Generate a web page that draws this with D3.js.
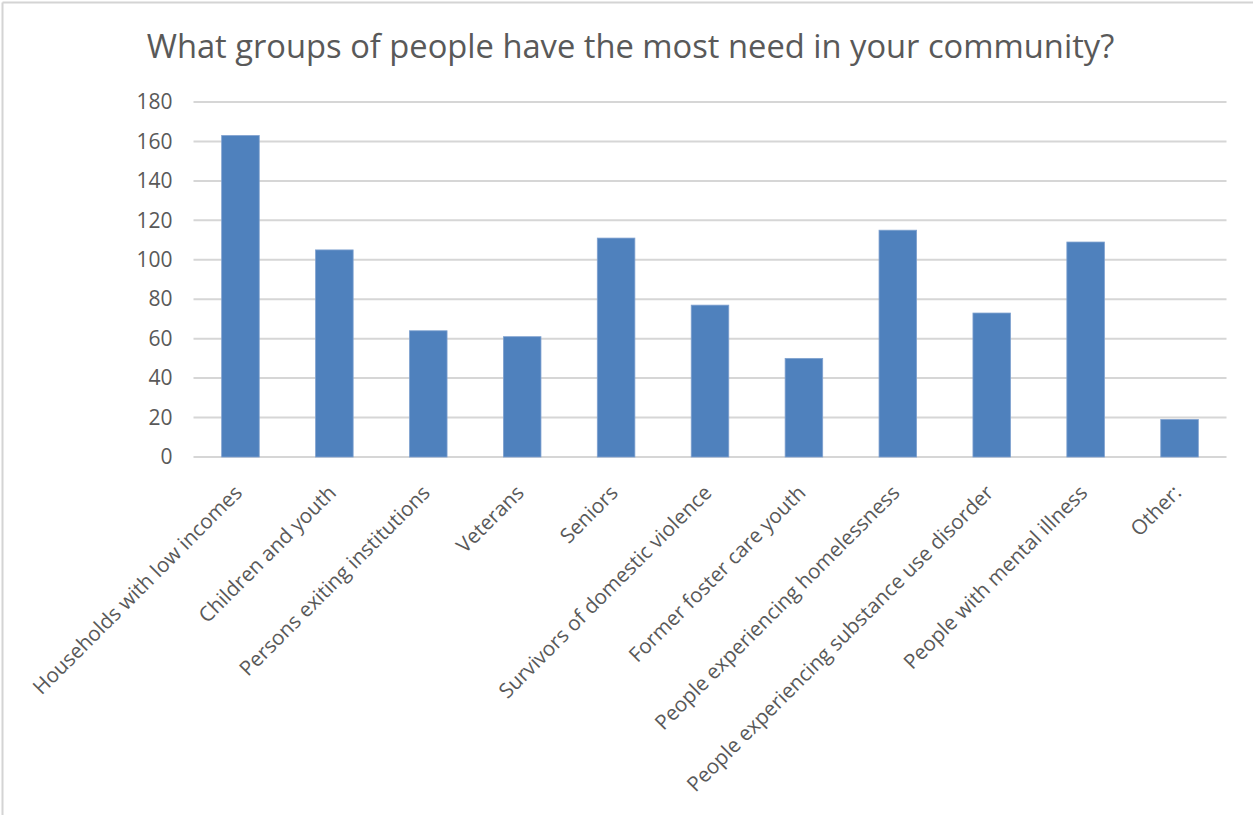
<!DOCTYPE html>
<html>
<head>
<meta charset="utf-8">
<script src="https://cdn.jsdelivr.net/npm/d3@7"></script>
<style>
  html, body { margin: 0; padding: 0; background: #fff; }
  svg { display: block; }
  text { font-family: "Open Sans", "Liberation Sans", sans-serif; fill: #595959; }
</style>
</head>
<body>
<svg id="chart" width="1253" height="815"></svg>
<script>
const titleText = "What groups of people have the most need in your community?";
const categories = [
  "Households with low incomes",
  "Children and youth",
  "Persons exiting institutions",
  "Veterans",
  "Seniors",
  "Survivors of domestic violence",
  "Former foster care youth",
  "People experiencing homelessness",
  "People experiencing substance use disorder",
  "People with mental illness",
  "Other:"
];
const values = [163, 105, 64, 61, 111, 77, 50, 115, 73, 109, 19];
const yTicks = [0, 20, 40, 60, 80, 100, 120, 140, 160, 180];

const W = 1253, H = 815;
const plotLeft = 193.5, plotRight = 1226.5, plotTop = 102, plotBottom = 457;
const svg = d3.select("#chart");

// chart frame (light border visible on top and left)
svg.append("line").attr("x1", 2.5).attr("x2", W).attr("y1", 2.5).attr("y2", 2.5)
  .attr("stroke", "#d4d4d4").attr("stroke-width", 2);
svg.append("line").attr("x1", 2.5).attr("x2", 2.5).attr("y1", 2.5).attr("y2", H)
  .attr("stroke", "#d4d4d4").attr("stroke-width", 2);

const x = d3.scaleBand().domain(categories).range([plotLeft, plotRight])
  .paddingInner(0.6).paddingOuter(0.3);
const y = d3.scaleLinear().domain([0, 180]).range([plotBottom, plotTop]);

// title
svg.append("text").attr("x", 630.5).attr("y", 58).attr("text-anchor", "middle")
  .style("font-size", "32.7px").text(titleText);

// gridlines
svg.append("g").selectAll("line").data(yTicks).join("line")
  .attr("x1", plotLeft).attr("x2", plotRight)
  .attr("y1", d => y(d)).attr("y2", d => y(d))
  .attr("stroke", "#d6d6d6").attr("stroke-width", 2);

// y axis labels
const yAxis = d3.axisLeft(y).tickValues(yTicks).tickSize(0).tickPadding(21);
const gy = svg.append("g").attr("transform", `translate(${plotLeft},0)`).call(yAxis);
gy.select(".domain").remove();
gy.selectAll("text").style("font-size", "21px").attr("fill", "#595959")
  .style("font-family", '"Open Sans", sans-serif');

// bars
svg.append("g").selectAll("rect").data(values).join("rect")
  .attr("x", (d, i) => x(categories[i]))
  .attr("width", x.bandwidth())
  .attr("y", d => y(d))
  .attr("height", d => y(0) - y(d))
  .attr("fill", "#4f81bd")
  .attr("stroke", "#7fa1cf").attr("stroke-width", 0.8);

// x axis labels
const xAxis = d3.axisBottom(x).tickSize(0).tickPadding(0);
const gx = svg.append("g").attr("transform", `translate(0,${plotBottom})`).call(xAxis);
gx.select(".domain").remove();
gx.selectAll("text")
  .style("font-size", "20.6px").attr("fill", "#595959")
  .style("font-family", '"Open Sans", sans-serif')
  .attr("text-anchor", "end")
  .attr("dy", 0).attr("y", 0)
  .attr("transform", "translate(3,37) rotate(-45)");
</script>
</body>
</html>
